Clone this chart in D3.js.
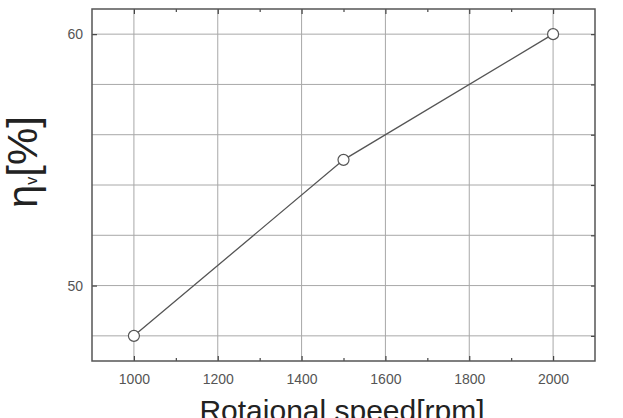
<!DOCTYPE html>
<html>
<head>
<meta charset="utf-8">
<script src="https://cdn.jsdelivr.net/npm/d3@7"></script>
<style>
  body { margin: 0; background: #fff; }
  svg { display: block; font-family: "Liberation Sans", Arial, sans-serif; }
</style>
</head>
<body>
<div id="wrapper"></div>
<script>
const speeds = [1000, 1500, 2000]
const efficiency = [48, 55, 60]
const xTicks = [1000, 1200, 1400, 1600, 1800, 2000]
const xMinorTicks = [1100, 1300, 1500, 1700, 1900]
const yTicks = [48, 50, 52, 54, 56, 58, 60]
const yLabels = [50, 60]

const dataset = speeds.map((s, i) => ({ speed: s, eta: efficiency[i] }))
const xAccessor = d => d.speed
const yAccessor = d => d.eta

let dimensions = {
    width: 623,
    height: 418,
    margin: { top: 9, right: 28, bottom: 57, left: 92 },
}
dimensions.boundedWidth = dimensions.width - dimensions.margin.left - dimensions.margin.right
dimensions.boundedHeight = dimensions.height - dimensions.margin.top - dimensions.margin.bottom

const wrapper = d3.select("#wrapper")
    .append("svg")
    .attr("width", dimensions.width)
    .attr("height", dimensions.height)

const bounds = wrapper.append("g")
    .attr("transform", `translate(${dimensions.margin.left},${dimensions.margin.top})`)

const xScale = d3.scaleLinear()
    .domain([900, 2100])
    .range([0, dimensions.boundedWidth])
const yScale = d3.scaleLinear()
    .domain([47, 61])
    .range([dimensions.boundedHeight, 0])

// grid
bounds.append("g").selectAll("line")
    .data(xTicks).join("line")
    .attr("x1", d => xScale(d)).attr("x2", d => xScale(d))
    .attr("y1", 0).attr("y2", dimensions.boundedHeight)
    .attr("stroke", "#a8a8a8").attr("stroke-width", 1)
bounds.append("g").selectAll("line")
    .data(yTicks).join("line")
    .attr("y1", d => yScale(d)).attr("y2", d => yScale(d))
    .attr("x1", 0).attr("x2", dimensions.boundedWidth)
    .attr("stroke", "#a8a8a8").attr("stroke-width", 1)

// axes with inward ticks
const styleAxis = g => {
    g.select(".domain").remove()
    g.selectAll(".tick line").attr("stroke", "#444").attr("stroke-width", 1.2)
    g.selectAll(".tick text").attr("fill", "#555").style("font-size", "14px")
}

bounds.append("g")
    .attr("transform", `translate(0,${dimensions.boundedHeight})`)
    .call(d3.axisBottom(xScale).tickValues(xTicks).tickSize(-5).tickPadding(13).tickFormat(d3.format("d")))
    .call(styleAxis)
bounds.append("g")
    .attr("transform", `translate(0,${dimensions.boundedHeight})`)
    .call(d3.axisBottom(xScale).tickValues(xMinorTicks).tickSize(-3).tickFormat(""))
    .call(styleAxis)
bounds.append("g")
    .call(d3.axisTop(xScale).tickValues(xTicks).tickSize(-5).tickFormat(""))
    .call(styleAxis)
bounds.append("g")
    .call(d3.axisTop(xScale).tickValues(xMinorTicks).tickSize(-3).tickFormat(""))
    .call(styleAxis)
bounds.append("g")
    .call(d3.axisLeft(yScale).tickValues(yLabels).tickSize(-5).tickPadding(9).tickFormat(d3.format("d")))
    .call(styleAxis)
bounds.append("g")
    .attr("transform", `translate(${dimensions.boundedWidth},0)`)
    .call(d3.axisRight(yScale).tickValues(yTicks).tickSize(-4).tickFormat(""))
    .call(styleAxis)

// frame
bounds.append("rect")
    .attr("width", dimensions.boundedWidth)
    .attr("height", dimensions.boundedHeight)
    .attr("fill", "none")
    .attr("stroke", "#555")
    .attr("stroke-width", 1.5)

// line + markers
const lineGenerator = d3.line()
    .x(d => xScale(xAccessor(d)))
    .y(d => yScale(yAccessor(d)))
bounds.append("path")
    .attr("d", lineGenerator(dataset))
    .attr("fill", "none")
    .attr("stroke", "#555")
    .attr("stroke-width", 1.3)
bounds.append("g").selectAll("circle")
    .data(dataset).join("circle")
    .attr("cx", d => xScale(xAccessor(d)))
    .attr("cy", d => yScale(yAccessor(d)))
    .attr("r", 5.5)
    .attr("fill", "#fff")
    .attr("stroke", "#555")
    .attr("stroke-width", 1.2)

// axis titles
wrapper.append("text")
    .attr("x", 342)
    .attr("y", 421)
    .attr("text-anchor", "middle")
    .attr("fill", "#222")
    .style("font-size", "30px")
    .text("Rotaional speed[rpm]")

const yTitle = wrapper.append("text")
    .attr("transform", "translate(37,208) rotate(-90)")
    .attr("fill", "#222")
    .style("font-size", "42px")
yTitle.append("tspan").text("η")
yTitle.append("tspan").style("font-size", "16px").attr("dy", 0).text("v")
yTitle.append("tspan").text("[%]")
</script>
</body>
</html>
